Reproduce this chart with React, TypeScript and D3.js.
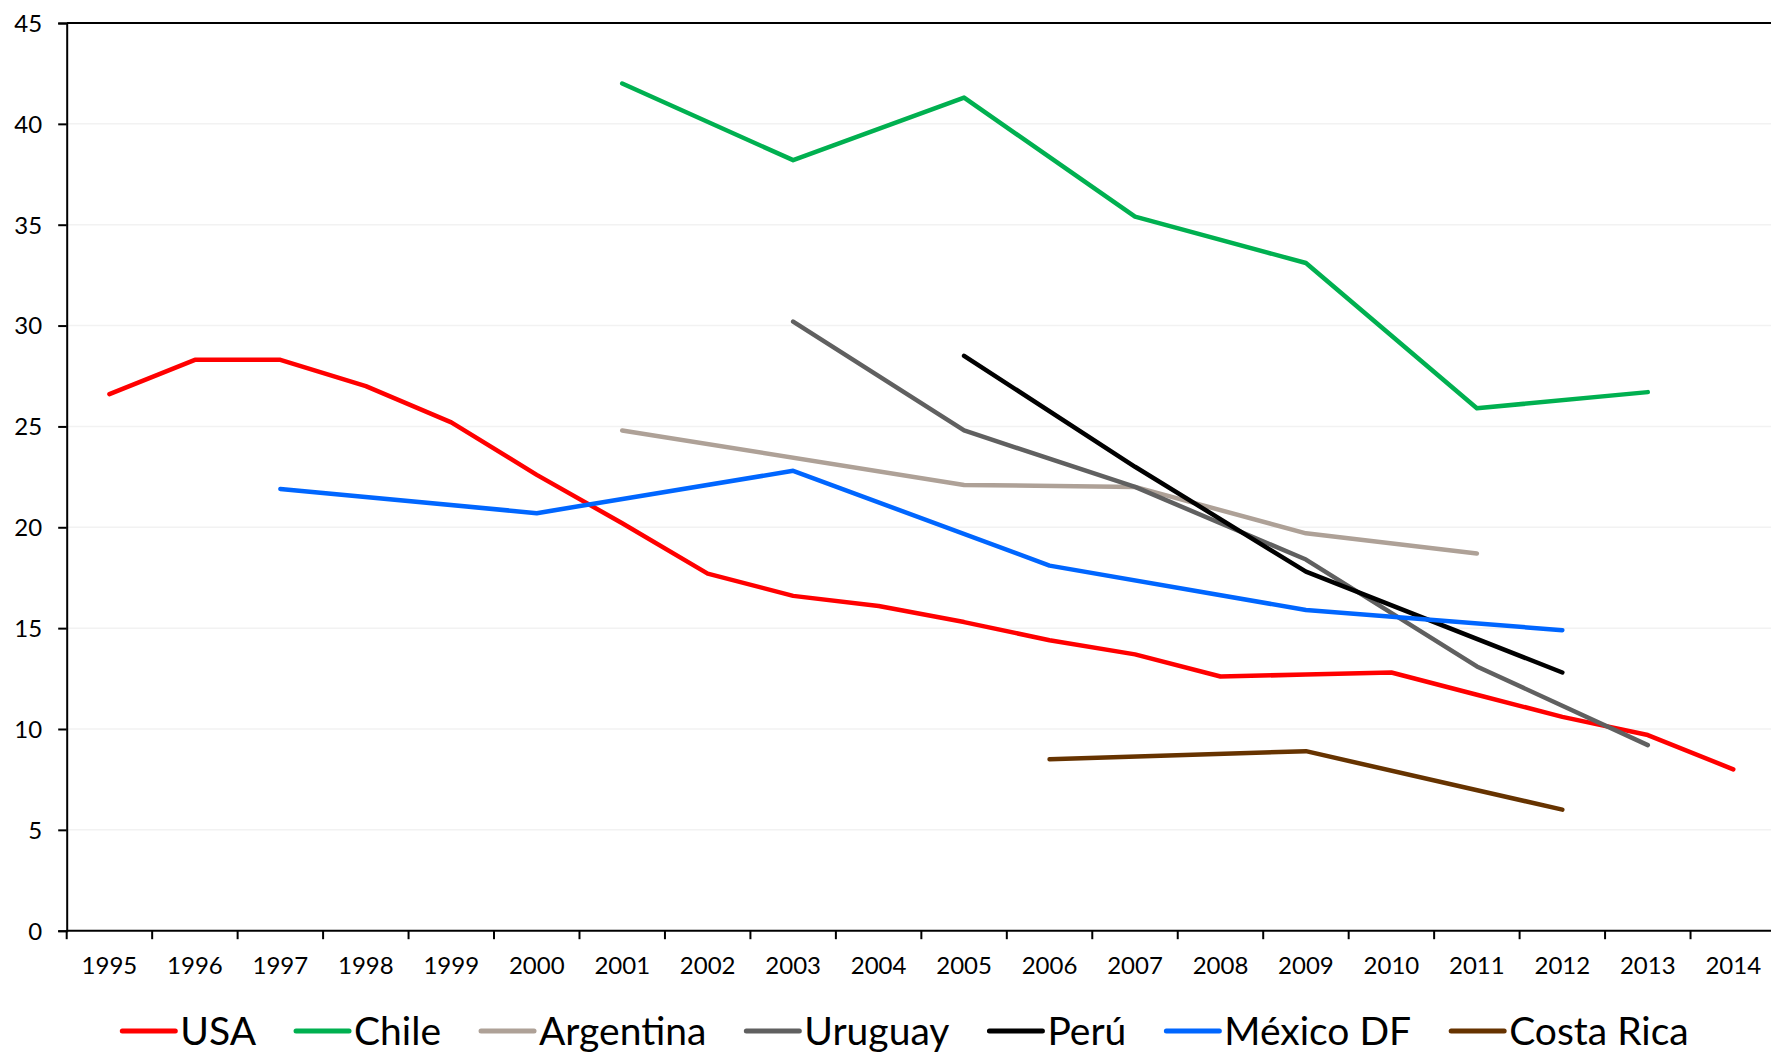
import React, { useEffect, useRef } from "react";
import * as d3 from "d3";

const years = ["1995","1996","1997","1998","1999","2000","2001","2002","2003","2004","2005","2006","2007","2008","2009","2010","2011","2012","2013","2014"];
const yTicks = [0, 5, 10, 15, 20, 25, 30, 35, 40, 45];

const usa = [26.6, 28.3, 28.3, 27.0, 25.2, 22.6, 20.2, 17.7, 16.6, 16.1, 15.3, 14.4, 13.7, 12.6, 12.7, 12.8, 11.7, 10.6, 9.7, 8.0];
const chile = [null, null, null, null, null, null, 42.0, null, 38.2, null, 41.3, null, 35.4, null, 33.1, null, 25.9, null, 26.7, null];
const argentina = [null, null, null, null, null, null, 24.8, null, null, null, 22.1, null, 22.0, null, 19.7, null, 18.7, null, null, null];
const uruguay = [null, null, null, null, null, null, null, null, 30.2, null, 24.8, null, 22.0, null, 18.4, null, 13.1, null, 9.2, null];
const peru = [null, null, null, null, null, null, null, null, null, null, 28.5, null, 23.0, null, 17.8, null, null, 12.8, null, null];
const mexico = [null, null, 21.9, null, null, 20.7, null, null, 22.8, null, null, 18.1, null, null, 15.9, null, null, 14.9, null, null];
const costaRica = [null, null, null, null, null, null, null, null, null, null, null, 8.5, null, null, 8.9, null, null, 6.0, null, null];

const seriesNames = ["USA", "Chile", "Argentina", "Uruguay", "Perú", "México DF", "Costa Rica"];
const seriesValues = [usa, chile, argentina, uruguay, peru, mexico, costaRica];
const seriesColors = ["#FF0000", "#00B050", "#AEA197", "#606060", "#000000", "#0066FF", "#663300"];

const W = 1771;
const H = 1052;
const FONT = "Lato, 'Open Sans', sans-serif";

export default function App() {
  const ref = useRef<SVGSVGElement | null>(null);

  useEffect(() => {
    const svg = d3.select(ref.current);
    svg.selectAll("*").remove();

    const left = 66.7, right = 1776, top = 23, bottom = 930.7;
    const x = d3.scaleBand<string>().domain(years).range([left, right]).padding(0);
    const y = d3.scaleLinear().domain([0, 45]).range([bottom, top]);
    const cx = (yr: string) => (x(yr) as number) + x.bandwidth() / 2;

    // gridlines
    svg.append("g")
      .selectAll("line")
      .data(yTicks.filter((t) => t > 0 && t < 45))
      .join("line")
      .attr("x1", left).attr("x2", right)
      .attr("y1", (d) => y(d)).attr("y2", (d) => y(d))
      .attr("stroke", "#F2F2F2").attr("stroke-width", 1.5);

    // top border
    svg.append("line")
      .attr("x1", left).attr("x2", right)
      .attr("y1", y(45)).attr("y2", y(45))
      .attr("stroke", "#000").attr("stroke-width", 2);

    // y axis
    const yAxis = d3.axisLeft(y).tickValues(yTicks).tickSize(8.5).tickPadding(16).tickFormat((d) => String(d));
    const gy = svg.append("g").attr("transform", `translate(${left},0)`).call(yAxis);
    gy.select(".domain").attr("stroke", "#000").attr("stroke-width", 2);
    gy.selectAll(".tick line").attr("stroke", "#000").attr("stroke-width", 2);
    gy.selectAll("text").attr("font-family", FONT).attr("font-size", 24).attr("fill", "#000").attr("dy", "0.35em");

    // x axis: ticks at category boundaries
    const gx = svg.append("g").attr("transform", `translate(0,${bottom})`);
    gx.append("line").attr("x1", left).attr("x2", right).attr("y1", 0).attr("y2", 0).attr("stroke", "#000").attr("stroke-width", 2);
    const boundaries = years.map((yr) => x(yr) as number).concat([right]);
    gx.selectAll("line.tk").data(boundaries).join("line").attr("class", "tk")
      .attr("x1", (d) => d).attr("x2", (d) => d).attr("y1", 0).attr("y2", 8.5)
      .attr("stroke", "#000").attr("stroke-width", 2);
    gx.selectAll("text").data(years).join("text")
      .attr("x", (d) => cx(d)).attr("y", 35).attr("dy", "0.35em")
      .attr("text-anchor", "middle")
      .attr("font-family", FONT).attr("font-size", 24).attr("fill", "#000")
      .text((d) => d);

    // lines
    const line = d3.line<{ yr: string; v: number }>()
      .x((d) => cx(d.yr))
      .y((d) => y(d.v));
    seriesValues.forEach((vals, i) => {
      const pts = years.map((yr, j) => ({ yr, v: vals[j] as number | null }))
        .filter((p) => p.v !== null) as { yr: string; v: number }[];
      svg.append("path")
        .attr("d", line(pts) as string)
        .attr("fill", "none")
        .attr("stroke", seriesColors[i])
        .attr("stroke-width", 4.5)
        .attr("stroke-linejoin", "round")
        .attr("stroke-linecap", "round");
    });

    // legend
    const lg = svg.append("g");
    const ly = 1031;
    const sw = 53, gapText = 5, gapItem = 40;
    const items = seriesNames.map((name, i) => {
      const g = lg.append("g");
      g.append("line").attr("x1", 0).attr("x2", sw).attr("y1", 0).attr("y2", 0)
        .attr("stroke", seriesColors[i]).attr("stroke-width", 5).attr("stroke-linecap", "round");
      const t = g.append("text").attr("x", sw + gapText).attr("y", 0).attr("dy", "0.35em")
        .attr("font-family", FONT).attr("font-size", 39).attr("fill", "#000").text(name);
      const w = (t.node() as SVGTextElement).getComputedTextLength();
      return { g, w: sw + gapText + w };
    });
    const total = items.reduce((s, it) => s + it.w, 0) + gapItem * (items.length - 1);
    let cur = 905.5 - total / 2;
    items.forEach((it) => {
      it.g.attr("transform", `translate(${cur},${ly})`);
      cur += it.w + gapItem;
    });
  }, []);

  return (
    <svg
      ref={ref}
      width={W}
      height={H}
      style={{ position: "absolute", left: 0, top: 0, background: "#fff" }}
    />
  );
}
